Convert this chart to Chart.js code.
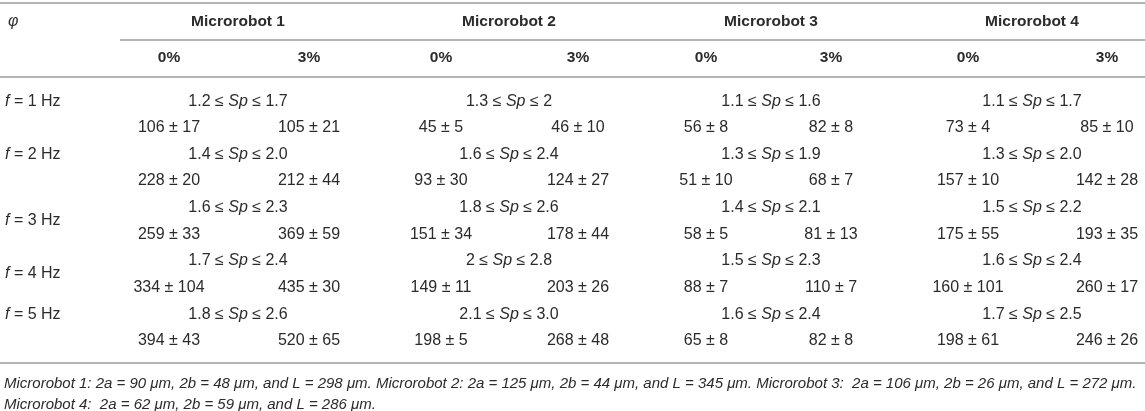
<!DOCTYPE html>
<html>
<head>
<meta charset="utf-8">
<script src="https://cdn.jsdelivr.net/npm/chart.js@4.4.1/dist/chart.umd.min.js"></script>
<style>
  html, body { margin: 0; padding: 0; background: #fff; }
  #wrap { width: 1145px; height: 411px; }
</style>
</head>
<body>
<div id="wrap"><canvas id="tbl" width="1145" height="411"></canvas></div>
<script>
(() => {
    "use strict";

    // Table content
    const rowHeader = "φ";
    const robots = ["Microrobot 1", "Microrobot 2", "Microrobot 3", "Microrobot 4"];
    const concentrations = ["0%", "3%"];
    const freqs = ["1", "2", "3", "4", "5"];
    const spLow = [
        ["1.2", "1.3", "1.1", "1.1"],
        ["1.4", "1.6", "1.3", "1.3"],
        ["1.6", "1.8", "1.4", "1.5"],
        ["1.7", "2", "1.5", "1.6"],
        ["1.8", "2.1", "1.6", "1.7"]
    ];
    const spHigh = [
        ["1.7", "2", "1.6", "1.7"],
        ["2.0", "2.4", "1.9", "2.0"],
        ["2.3", "2.6", "2.1", "2.2"],
        ["2.4", "2.8", "2.3", "2.4"],
        ["2.6", "3.0", "2.4", "2.5"]
    ];
    // columns: robot 1 0%, robot 1 3%, robot 2 0%, ...
    const means = [
        [106, 105, 45, 46, 56, 82, 73, 85],
        [228, 212, 93, 124, 51, 68, 157, 142],
        [259, 369, 151, 178, 58, 81, 175, 193],
        [334, 435, 149, 203, 88, 110, 160, 260],
        [394, 520, 198, 268, 65, 82, 198, 246]
    ];
    const sds = [
        [17, 21, 5, 10, 8, 8, 4, 10],
        [20, 44, 30, 27, 10, 7, 10, 28],
        [33, 59, 34, 44, 5, 13, 55, 35],
        [104, 30, 11, 26, 7, 7, 101, 17],
        [43, 65, 5, 48, 8, 8, 61, 26]
    ];
    const notes = [
        "Microrobot 1: 2a = 90 μm, 2b = 48 μm, and L = 298 μm. Microrobot 2: 2a = 125 μm, 2b = 44 μm, and L = 345 μm. Microrobot 3:  2a = 106 μm, 2b = 26 μm, and L = 272 μm.",
        "Microrobot 4:  2a = 62 μm, 2b = 59 μm, and L = 286 μm."
    ];

    // Layout (page pixels)
    const W = 1145, H = 411;
    const colX = [169, 309, 441, 578, 706, 831, 968, 1107];
    const groupX = [238, 509, 771, 1032];
    const headY = 22, subY = 58;
    const spY = [102, 155, 208, 261, 315];
    const valY = [128, 181, 235, 288, 341];
    const freqY = [102, 155, 221, 274, 315];
    const noteY = [384, 405];
    const rules = [[0, 3], [120, 40], [0, 77], [0, 363]]; // [x start, y]

    const FONT = "'Liberation Sans', Arial, Helvetica, sans-serif";
    const INK = "#2b2b2b";

    // build cells
    const cells = [];
    const cell = (x, y, runs, opts = {}) => cells.push(Object.assign({ x, y, runs, align: "center", bold: false, size: 16 }, opts));

    cell(8, headY, [{ t: rowHeader, i: true }], { align: "left" });
    robots.forEach((r, g) => cell(groupX[g], headY, [{ t: r }], { bold: true, size: 15.5 }));
    colX.forEach((x, c) => cell(x, subY, [{ t: concentrations[c % 2] }], { bold: true, size: 15.5 }));

    freqs.forEach((f, r) => {
        cell(5, freqY[r], [{ t: "f", i: true }, { t: " = " + f + " Hz" }], { align: "left" });
        robots.forEach((_, g) => cell(groupX[g], spY[r], [
            { t: spLow[r][g] + " ≤ " }, { t: "Sp", i: true }, { t: " ≤ " + spHigh[r][g] }
        ]));
        colX.forEach((x, c) => cell(x, valY[r], [{ t: means[r][c] + " ± " + sds[r][c] }]));
    });

    notes.forEach((n, k) => cell(4, noteY[k], [{ t: n, i: true }], { align: "left", size: 15 }));

    const fontFor = (run, c) => (run.i ? "italic " : "") + (c.bold ? "bold " : "") + c.size + "px " + FONT;

    const cellText = {
        id: "cellText",
        afterDatasetsDraw(chart) {
            const ctx = chart.ctx;
            chart.data.datasets.forEach((ds, di) => {
                if (!ds.isCells) return;
                const meta = chart.getDatasetMeta(di);
                meta.data.forEach((pt, j) => {
                    const c = ds.data[j];
                    ctx.save();
                    ctx.fillStyle = INK;
                    ctx.textBaseline = "middle";
                    ctx.textAlign = "left";
                    let total = 0;
                    const widths = c.runs.map(run => {
                        ctx.font = fontFor(run, c);
                        const w = ctx.measureText(run.t).width;
                        total += w;
                        return w;
                    });
                    let x = c.align === "center" ? pt.x - total / 2 : pt.x;
                    c.runs.forEach((run, k) => {
                        ctx.font = fontFor(run, c);
                        ctx.fillText(run.t, x, pt.y);
                        x += widths[k];
                    });
                    ctx.restore();
                });
            });
        }
    };

    const ruleSets = rules.map(([x0, y]) => ({
        type: "line",
        data: [{ x: x0, y }, { x: W, y }],
        borderColor: "#b4b4b4",
        borderWidth: 2,
        pointRadius: 0,
        fill: false
    }));

    // eslint-disable-next-line no-unused-vars
    const tbl = new Chart(document.getElementById("tbl").getContext("2d"), {
        type: "scatter",
        data: {
            datasets: ruleSets.concat([{
                isCells: true,
                data: cells,
                pointRadius: 0,
                pointHoverRadius: 0
            }])
        },
        options: {
            responsive: false,
            animation: false,
            events: [],
            layout: { padding: 0 },
            plugins: { legend: { display: false }, tooltip: { enabled: false } },
            scales: {
                x: { type: "linear", min: 0, max: W, display: false },
                y: { type: "linear", min: 0, max: H, reverse: true, display: false }
            }
        },
        plugins: [cellText]
    });
})();
</script>
</body>
</html>
